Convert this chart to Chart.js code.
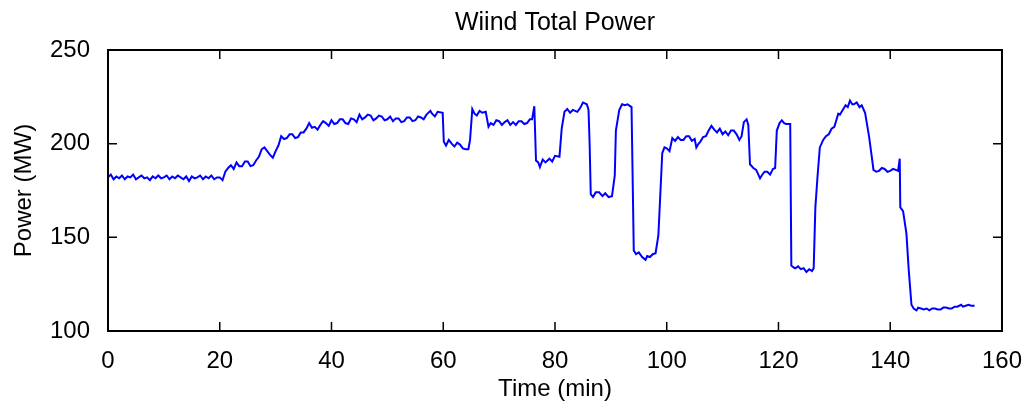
<!DOCTYPE html>
<html>
<head>
<meta charset="utf-8">
<script src="https://cdn.jsdelivr.net/npm/chart.js@4.4.0/dist/chart.umd.min.js"></script>
<style>
  html, body { margin: 0; padding: 0; background: #fff; }
  #wrap { width: 1030px; height: 404px; }
</style>
</head>
<body>
<div id="wrap"><canvas id="power-chart" width="1030" height="404"></canvas></div>
<script>
    // Values (time in minutes, power in MW).
    var timeMin = [
        0, 0.5, 1, 1.5, 2, 2.5, 3, 3.5, 4, 4.5, 5, 5.5, 6, 6.5, 7, 7.5, 8, 8.5, 9, 9.5,
        10, 10.5, 11, 11.5, 12, 12.5, 13, 13.5, 14, 14.5, 15, 15.5, 16, 16.5, 17, 17.5, 18, 18.5, 19, 19.5,
        20, 20.5, 21, 21.5, 22, 22.5, 23, 23.5, 24, 24.5, 25, 25.5, 26, 26.5, 27, 27.5, 28, 28.5, 29, 29.5,
        30, 30.5, 31, 31.5, 32, 32.5, 33, 33.5, 34, 34.5, 35, 35.5, 36, 36.5, 37, 37.5, 38, 38.5, 39, 39.5,
        40, 40.5, 41, 41.5, 42, 42.5, 43, 43.5, 44, 44.5, 45, 45.5, 46, 46.5, 47, 47.5, 48, 48.5, 49, 49.5,
        50, 50.5, 51, 51.5, 52, 52.5, 53, 53.5, 54, 54.5, 55, 55.5, 56, 56.5, 57, 57.7, 58, 58.5, 59, 59.9,
        60.1, 60.5, 61, 61.5, 62, 62.5, 63, 63.5, 64, 64.5, 64.8, 65.2, 65.6, 66, 66.5, 67, 67.6,
        68.1, 68.5, 69, 69.5, 70, 70.5, 71, 71.5, 72, 72.5, 73, 73.5, 74, 74.5, 75, 75.5, 75.9, 76.3,
        76.6, 77, 77.3, 77.8, 78.3, 79, 79.5, 80, 80.8, 81.2, 81.7, 82.2, 82.7, 83.2, 84, 84.5, 85, 85.7,
        86, 86.2, 86.4, 86.8, 87.3, 87.9, 88.5, 89, 89.6, 90.2, 90.7, 90.9, 91.5, 92, 92.5, 93, 93.7,
        94.1, 94.5, 95, 95.6, 96.2, 96.5, 97, 97.5, 98, 98.5, 98.9, 99.2, 99.6, 100, 100.5, 101, 101.5,
        102, 102.5, 103, 103.5, 104, 104.5, 105, 105.3, 105.7, 106, 106.5, 107, 107.5, 108, 108.5, 109,
        109.5, 110, 110.5, 111, 111.5, 112, 112.5, 113, 113.4, 113.8, 114.3, 114.6,
        114.9, 115.5, 116, 116.4, 116.7, 117, 117.5, 118, 118.5, 119, 119.4, 119.7, 120.2, 120.6, 121, 121.4, 122.1,
        122.3, 122.7, 123, 123.5, 124, 124.5, 125, 125.5, 126, 126.3, 126.6, 127, 127.4, 128, 128.5, 129,
        129.5, 130, 130.7, 131, 131.5, 132, 132.4, 132.8, 133.2, 133.5, 134, 134.5, 134.9, 135.5, 136.2, 136.7,
        137, 137.5, 138, 138.5, 139, 139.5, 140, 140.5, 141, 141.4, 141.7, 141.8, 142.3, 142.9, 143.3, 143.8,
        144.2, 144.7, 145, 145.5, 146, 146.5, 147, 147.5, 148, 148.5, 149, 149.5, 150, 150.5, 151, 151.5,
        152, 152.7, 153, 153.5, 154, 154.5, 155.1
    ];
    var powerMW = [
        182, 183.5, 181, 182.5, 181.5, 183, 181, 182.5, 182, 183.5, 181, 182, 183, 181.5, 182, 180.5, 182.5, 181.5, 183, 181.5,
        182, 183, 181, 182.5, 181.5, 183, 182, 181, 182.5, 180, 182.5, 181.5, 182, 183, 181, 182.5, 181.5, 183, 181, 182,
        182, 180.5, 185, 187, 188.5, 186.5, 190, 188, 188, 190.5, 190.5, 188, 188.5, 191, 193, 197, 198, 196, 194, 192.5,
        196, 199, 204, 202.5, 203, 205, 205, 203, 203.5, 206, 206, 208, 211, 208.5, 209, 207.5, 210, 212, 211, 209.5,
        212.5, 210.5, 211, 213, 213, 211, 210.5, 213.5, 213, 211.5, 215.5, 213, 214, 215.5, 215, 212.5, 213.5, 215, 214.5, 212.5,
        213, 214.5, 212, 213.5, 213.5, 211.5, 212, 214, 214, 212, 212.5, 214.5, 214, 213, 215.5, 217.5, 216, 214.5, 217, 216.5,
        201, 199, 202, 200, 198.5, 200.5, 199.5, 197.5, 197, 197, 202, 218.5, 216, 215, 217.5, 216.5, 217,
        209, 211, 210, 212.5, 212, 210, 211.5, 212.5, 210, 211.5, 210, 212, 212, 210.5, 211, 213, 213, 220,
        191, 190, 187.5, 191.5, 190, 192, 190.5, 193.5, 193, 208, 217, 218.5, 216.5, 218, 217, 219, 222, 221,
        218, 200, 173, 171.5, 174, 174, 172, 173.5, 171.5, 172, 183, 207, 218, 221, 220.5, 221, 219.5,
        143, 141, 142, 139.5, 138, 140, 139.5, 141, 141.5, 151, 176, 195, 198, 197.5, 196, 203, 201.5,
        203.5, 202, 202, 204, 204, 201.5, 202.5, 198, 200, 201, 203.5, 204, 207, 209.5, 207.5, 206,
        208, 205, 206.5, 204.5, 207, 207, 205, 202, 204, 211.5, 213, 210,
        189, 187, 186, 183.5, 181.5, 183, 185, 185, 183.5, 186.5, 187, 207, 211, 212.5, 211, 210.5, 210.5,
        135, 134, 133.5, 134.5, 133, 133.5, 131.5, 133, 132, 133.5, 166, 183, 198, 202, 204, 205,
        208, 209, 216, 215.5, 218, 220.5, 219.5, 223, 221, 221, 222, 219.5, 220.5, 216.5, 204, 193,
        186, 185, 185.5, 187, 186.5, 185, 185.5, 186.5, 186, 185.5, 192, 166, 164, 152, 133, 114,
        112, 111, 112.5, 112, 111.5, 112, 111, 112, 112, 111.5, 111.5, 112.5, 112.5, 112, 112, 113,
        113, 114, 113, 113.5, 114, 113.5, 113.5
    ];
    var xTicks = [0, 20, 40, 60, 80, 100, 120, 140, 160];
    var yTicks = [100, 150, 200, 250];

    var points = [];
    for (let i = 0; i < timeMin.length; i++) {
        points.push({x: timeMin[i], y: powerMW[i]});
    }

    // MATLAB style frame: full box with ticks pointing inward on all four sides.
    var boxPlugin = {
        id: 'boxPlugin',
        afterDraw(chart) {
            let ctx = chart.ctx;
            let a = chart.chartArea;
            let xs = chart.scales.x;
            let ys = chart.scales.y;
            ctx.save();
            ctx.strokeStyle = '#000';
            ctx.lineWidth = 1.5;
            ctx.beginPath();
            for (let v of xTicks) {
                let px = xs.getPixelForValue(v);
                ctx.moveTo(px, a.bottom);
                ctx.lineTo(px, a.bottom - 9);
                ctx.moveTo(px, a.top);
                ctx.lineTo(px, a.top + 9);
            }
            for (let v of yTicks) {
                let py = ys.getPixelForValue(v);
                ctx.moveTo(a.left, py);
                ctx.lineTo(a.left + 9, py);
                ctx.moveTo(a.right, py);
                ctx.lineTo(a.right - 9, py);
            }
            ctx.stroke();
            ctx.lineWidth = 2;
            ctx.strokeRect(a.left, a.top, a.right - a.left, a.bottom - a.top);
            ctx.restore();
        }
    };

    var font = 'Liberation Sans, Arial, Helvetica, sans-serif';

    var chart = new Chart(document.getElementById('power-chart').getContext('2d'), {
        type: 'line',
        data: {
            datasets: [{
                label: 'Wind Total Power',
                data: points,
                borderColor: '#0000ff',
                borderWidth: 2,
                pointRadius: 0,
                tension: 0,
                fill: false
            }]
        },
        options: {
            responsive: false,
            animation: false,
            layout: {padding: {left: 0, right: 24, top: 0, bottom: 0}},
            plugins: {
                legend: {display: false},
                tooltip: {enabled: false},
                title: {
                    display: true,
                    text: 'Wiind Total Power',
                    color: '#000',
                    fullSize: false,
                    font: {family: font, size: 25, weight: 'normal'},
                    padding: {top: 8, bottom: 12}
                }
            },
            scales: {
                x: {
                    type: 'linear',
                    min: 0,
                    max: 160,
                    afterFit: function(s) { s.height = 73; },
                    afterBuildTicks: function(s) { s.ticks = xTicks.map(v => ({value: v})); },
                    grid: {display: false},
                    border: {display: false},
                    ticks: {color: '#000', padding: 8, maxRotation: 0, font: {family: font, size: 24}},
                    title: {
                        display: true,
                        text: 'Time (min)',
                        color: '#000',
                        font: {family: font, size: 24},
                        padding: {top: 0, bottom: 0}
                    }
                },
                y: {
                    min: 100,
                    max: 250,
                    afterFit: function(s) { s.width = 108; },
                    afterBuildTicks: function(s) { s.ticks = yTicks.map(v => ({value: v})); },
                    grid: {display: false},
                    border: {display: false},
                    ticks: {color: '#000', padding: 10, font: {family: font, size: 24}},
                    title: {
                        display: true,
                        text: 'Power (MW)',
                        color: '#000',
                        font: {family: font, size: 24},
                        padding: {top: 10, bottom: 0}
                    }
                }
            }
        },
        plugins: [boxPlugin]
    });
</script>
</body>
</html>
